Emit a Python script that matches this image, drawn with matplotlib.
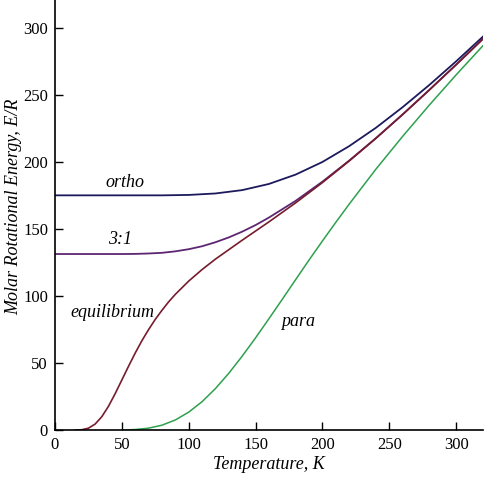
import matplotlib.pyplot as plt

# Rotational energy of H2 (E/R, in K)
ortho_T = [0, 60, 80, 100, 120, 140, 160, 180, 200, 220, 240, 260, 280, 300, 320]
ortho_E = [175.2, 175.2, 175.2, 175.5, 176.6, 179.1, 183.7, 190.7, 200.1,
           211.9, 225.6, 241.0, 257.6, 275.2, 293.6]

mix_T = [0, 50, 60, 70, 80, 90, 100, 110, 120, 130, 140, 150, 160, 180, 200,
         220, 240, 260, 280, 300, 320]
mix_E = [131.4, 131.4, 131.5, 131.8, 132.3, 133.4, 135.0, 137.2, 140.2, 143.8,
         148.1, 153.0, 158.6, 171.1, 185.4, 201.1, 217.9, 235.6, 253.9, 272.7,
         291.9]

eq_T = [15, 20, 25, 30, 35, 40, 45, 50, 55, 60, 65, 70, 75, 80, 85, 90, 100,
        110, 120, 140, 160, 180, 200, 220, 240, 260, 280, 300, 320]
eq_E = [0.01, 0.25, 1.41, 4.47, 9.96, 17.74, 27.16, 37.38, 47.6, 57.5, 66.7,
        75.0, 82.6, 89.4, 95.7, 101.3, 111.2, 119.8, 127.6, 141.7, 155.4,
        169.6, 184.7, 200.8, 217.7, 235.5, 253.9, 272.7, 291.9]

para_T = [50, 60, 70, 80, 90, 100, 110, 120, 130, 140, 150, 160, 170, 180,
          190, 200, 210, 220, 240, 260, 280, 300, 320]
para_E = [0.07, 0.41, 1.43, 3.65, 7.54, 13.37, 21.2, 30.97, 42.4, 55.15, 68.8,
          83.1, 97.6, 112.3, 126.9, 141.1, 155.0, 168.6, 194.7, 219.2, 242.6,
          265.1, 286.8]

ticks = [0, 50, 100, 150, 200, 250, 300]

serif = ['Liberation Serif', 'DejaVu Serif']
plt.rcParams['font.family'] = serif

fig = plt.figure(figsize=(4.84, 4.80), dpi=100, facecolor='w')
ax = fig.add_axes([0.1136, 0.104, 0.884, 0.896])

ax.plot(ortho_T, ortho_E, color='#1c1a5c', lw=1.3)
ax.plot(mix_T, mix_E, color='#5e2672', lw=1.3)
ax.plot(eq_T, eq_E, color='#761c2c', lw=1.2)
ax.plot(para_T, para_E, color='#2ea04e', lw=1.1)

lab = dict(fontsize=13, style='italic', ha='center', va='center')
ax.text(52, 185, 'ortho', **lab)
ax.text(48.5, 142, '3:1', **lab)
ax.text(43, 88, 'equilibrium', **lab)
ax.text(182, 81, 'para', **lab)

ax.set_xlim(0, 320)
ax.set_ylim(0, 321)
ax.set_xticks(ticks)
ax.set_yticks(ticks)
ax.tick_params(direction='in', length=6, width=1, labelsize=12, pad=5)
ax.set_xlabel('Temperature, K', fontsize=13, style='italic', labelpad=2)
ax.set_ylabel('Molar Rotational Energy, E/R', fontsize=13, style='italic')
ax.yaxis.set_label_coords(-0.076, 0.52)
for spine in ('top', 'right'):
    ax.spines[spine].set_visible(False)
for spine in ('bottom', 'left'):
    ax.spines[spine].set_linewidth(1.2)

fig.savefig('out.png', dpi=100)
